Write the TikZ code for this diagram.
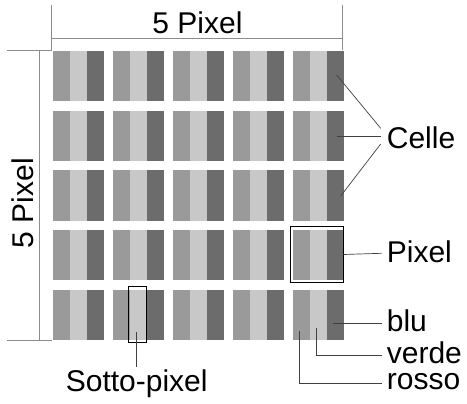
\documentclass[tikz,border=0pt]{standalone}
\usepackage{fontspec}
\setmainfont{Liberation Sans}
\begin{document}
\begin{tikzpicture}[x=1pt,y=-1pt,
  sub/.style={draw=none,inner sep=0pt,minimum width=17pt,minimum height=50.5pt,anchor=north west},
  dim/.style={draw=gray!90,line width=0.9pt},
  ptr/.style={draw=black!75,line width=0.7pt},
  frame/.style={draw=black,line width=0.7pt,inner sep=0pt,anchor=north west},
  lbl/.style={font=\fontsize{30}{32}\selectfont,inner sep=0pt}]
\definecolor{cR}{HTML}{9A9A9A}
\definecolor{cG}{HTML}{C8C8C8}
\definecolor{cB}{HTML}{6C6C6C}
\useasboundingbox (0,0) rectangle (467,404);
\foreach \i in {1,...,5}{
  \foreach \j in {1,...,5}{
    \pgfmathsetmacro{\xx}{52.3+60*(\i-1)}
    \pgfmathsetmacro{\yy}{50.7+59.7*(\j-1)}
    \node[sub,fill=cR] (r-\i-\j) at (\xx,\yy) {};
    \node[sub,fill=cG] (g-\i-\j) at (\xx+17,\yy) {};
    \node[sub,fill=cB] (b-\i-\j) at (\xx+34,\yy) {};
  }
}
% top dimension
\coordinate (tl) at (51.7,5);
\coordinate (tlb) at (51.7,50.5);
\coordinate (tr) at (342.5,5);
\coordinate (trb) at (342.5,50.5);
\coordinate (hl) at (51.7,38.7);
\coordinate (hr) at (342.5,38.7);
\draw[dim] (tl) -- (tlb);
\draw[dim] (tr) -- (trb);
\draw[dim] (hl) -- (hr);
\node[lbl,anchor=base] (toptxt) at (197.5,34) {5 Pixel};
% left dimension
\coordinate (lt1) at (7,50.7);
\coordinate (lt2) at (52,50.7);
\coordinate (lb1) at (7,340.7);
\coordinate (lb2) at (52,340.7);
\coordinate (vt) at (39.3,50.7);
\coordinate (vb) at (39.3,340.7);
\draw[dim] (lt1) -- (lt2);
\draw[dim] (lb1) -- (lb2);
\draw[dim] (vt) -- (vb);
\node[lbl,anchor=base,rotate=90] (lefttxt) at (33.3,203) {5 Pixel};
% Sotto-pixel
\node[frame,minimum width=18pt,minimum height=56.5pt] (spx) at (127.7,286) {};
\coordinate (spa) at (136.5,332);
\coordinate (spb) at (136.5,366.7);
\draw[ptr] (spa) -- (spb);
\node[lbl,anchor=base] (sptxt) at (136.7,391.7) {Sotto-pixel};
% Celle
\coordinate (c1) at (336.7,75);
\coordinate (c1e) at (380.7,128.3);
\coordinate (c2) at (336.7,136);
\coordinate (c2e) at (380.7,136);
\coordinate (c3) at (340.7,196);
\coordinate (c3e) at (380.7,144);
\draw[ptr] (c1) -- (c1e);
\draw[ptr] (c2) -- (c2e);
\draw[ptr] (c3) -- (c3e);
\node[lbl,anchor=base west] (celle) at (386.7,148.3) {Celle};
% Pixel
\node[frame,minimum width=52.7pt,minimum height=56.3pt] (pxf) at (290,226) {};
\coordinate (pxe) at (381.7,253.3);
\draw[ptr] (pxf.east) -- (pxe);
\node[lbl,anchor=base west] (pixel) at (386.7,262.7) {Pixel};
% blu verde rosso
\coordinate (bl1) at (333.3,323.3);
\coordinate (bl2) at (381.7,323.3);
\draw[ptr] (bl1) -- (bl2);
\node[lbl,anchor=base west] (blu) at (386.7,331.7) {blu};
\coordinate (ve1) at (316,328.3);
\coordinate (ve2) at (316,355);
\coordinate (ve3) at (381.7,355);
\draw[ptr] (ve1) -- (ve2) -- (ve3);
\node[lbl,anchor=base west] (verde) at (386.7,363.3) {verde};
\coordinate (ro1) at (299,331);
\coordinate (ro2) at (299,383.3);
\coordinate (ro3) at (381.7,383.3);
\draw[ptr] (ro1) -- (ro2) -- (ro3);
\node[lbl,anchor=base west] (rosso) at (386.7,389.3) {rosso};
\end{tikzpicture}
\end{document}
